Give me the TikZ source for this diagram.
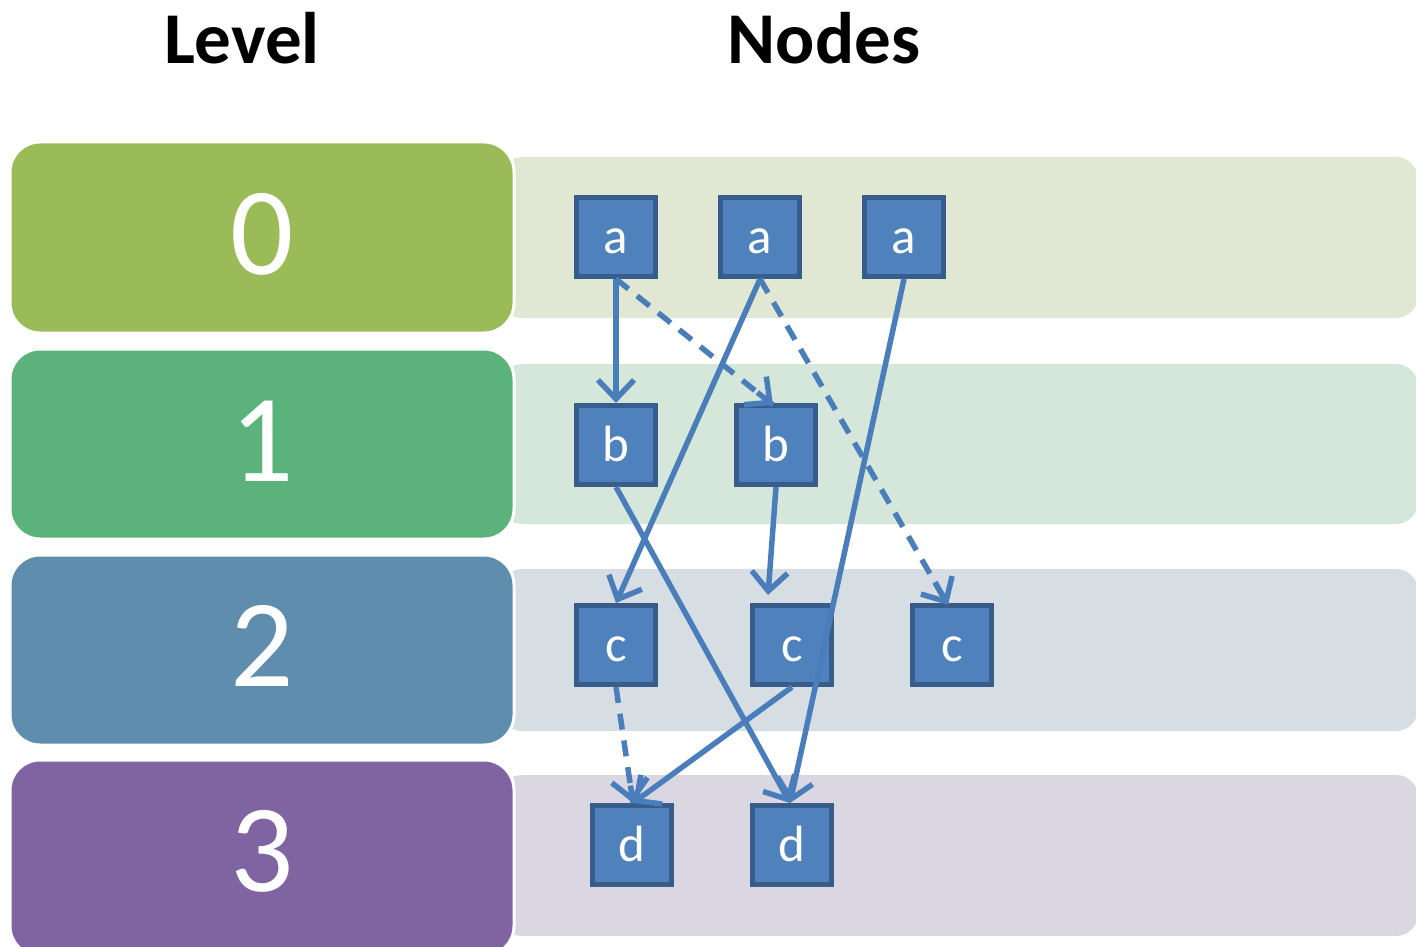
\documentclass[tikz,border=0pt]{standalone}
\usepackage{fontspec}
\setmainfont{Carlito}
\usetikzlibrary{arrows.meta,calc}

\definecolor{lvlA}{HTML}{9BBB59}
\definecolor{lvlB}{HTML}{5BB27B}
\definecolor{lvlC}{HTML}{5F8DAD}
\definecolor{lvlD}{HTML}{8064A2}
\definecolor{bandA}{HTML}{E0E8D3}
\definecolor{bandB}{HTML}{D5E6DA}
\definecolor{bandC}{HTML}{D6DEE4}
\definecolor{bandD}{HTML}{DAD7E3}
\definecolor{nodefill}{HTML}{4F81BD}
\definecolor{nodeline}{HTML}{385D8A}
\definecolor{edgecol}{HTML}{4A7EBB}

\tikzset{
  levelbox/.style={draw=white, line width=3pt, rounded corners=30pt},
  band/.style={rounded corners=22pt},
  levelnum/.style={text=white, font=\fontsize{125}{125}\selectfont},
  title/.style={font=\fontsize{73}{73}\bfseries\selectfont},
  gnode/.style={draw=nodeline, fill=nodefill, line width=5pt,
    minimum width=79pt, minimum height=79pt, inner sep=0pt,
    text=white, font=\fontsize{51}{51}\selectfont},
  wire/.style={draw=edgecol, line width=5.5pt},
  tip/.style={-{Straight Barb[length=19pt,width=36pt,line width=5.5pt]}},
  edge/.style={wire, tip},
  dashedwire/.style={wire, dash pattern=on 16pt off 11pt},
}
% letter set on a baseline a fixed distance below the node centre
\newcommand{\lbl}[1]{\raisebox{-16pt}[0pt][0pt]{#1}}

\begin{document}
\begin{tikzpicture}[x=1pt,y=-1pt]
\useasboundingbox (0,0) rectangle (1416,947);

% headings
\node[title] (hlevel) at (242,38) {Level};
\node[title] (hnodes) at (824,38) {Nodes};

% light bands behind each level row
\fill[bandA, band] (500,157) rectangle (1418,318);
\fill[bandB, band] (500,364) rectangle (1418,524);
\fill[bandC, band] (500,569) rectangle (1418,731);
\fill[bandD, band] (500,775) rectangle (1418,936);

% level labels
\path[levelbox, fill=lvlA] (10,142) rectangle (514,333);
\path[levelbox, fill=lvlB] (10,349) rectangle (514,539);
\path[levelbox, fill=lvlC] (10,555) rectangle (514,745);
\path[levelbox, fill=lvlD] (10,760) rectangle (514,956);
\node[levelnum] (l0) at (262,234) {0};
\node[levelnum] (l1) at (262,441) {1};
\node[levelnum] (l2) at (262,646) {2};
\node[levelnum] (l3) at (262,851) {3};

% graph nodes
\node[gnode] (a1) at (616,237) {\lbl{a}};
\node[gnode] (a2) at (760,237) {\lbl{a}};
\node[gnode] (a3) at (904,237) {\lbl{a}};
\node[gnode] (b1) at (616,445) {\lbl{b}};
\node[gnode] (b2) at (776,445) {\lbl{b}};
\node[gnode] (c1) at (616,645) {\lbl{c}};
\node[gnode] (c2) at (792,645) {\lbl{c}};
\node[gnode] (c3) at (952,645) {\lbl{c}};
\node[gnode] (d1) at (632,845) {\lbl{d}};
\node[gnode] (d2) at (792,845) {\lbl{d}};

% end points of the edges on the node tops
\coordinate (b2in) at ($(b2.north)+(-3,2)$);
\coordinate (c2in) at ($(c2.north)+(-24,-8)$);
\coordinate (c3in) at ($(c3.north)+(-4,2)$);
\coordinate (d1in) at ($(d1.north)+(1,0)$);
\coordinate (d2in) at ($(d2.north)+(-2,0)$);

% solid edges
\draw[edge] (a1.south) -- (b1.north);
\draw[edge] (a2.south) -- (c1.north);
\draw[edge] (a3.south) -- (d2in);
\draw[edge] (b1.south) -- (d2in);
\draw[edge] (b2.south) -- (c2in);
\draw[edge] (c2.south) -- (d1in);

% dashed edges: dashed shaft, solid head
\draw[dashedwire] (a1.south) -- (b2in);
\draw[edge] ($(a1.south)!0.9!(b2in)$) -- (b2in);
\draw[dashedwire] (a2.south) -- (c3in);
\draw[edge] ($(a2.south)!0.93!(c3in)$) -- (c3in);
\draw[dashedwire] (c1.south) -- (d1in);
\draw[edge] ($(c1.south)!0.85!(d1in)$) -- (d1in);
\end{tikzpicture}
\end{document}
